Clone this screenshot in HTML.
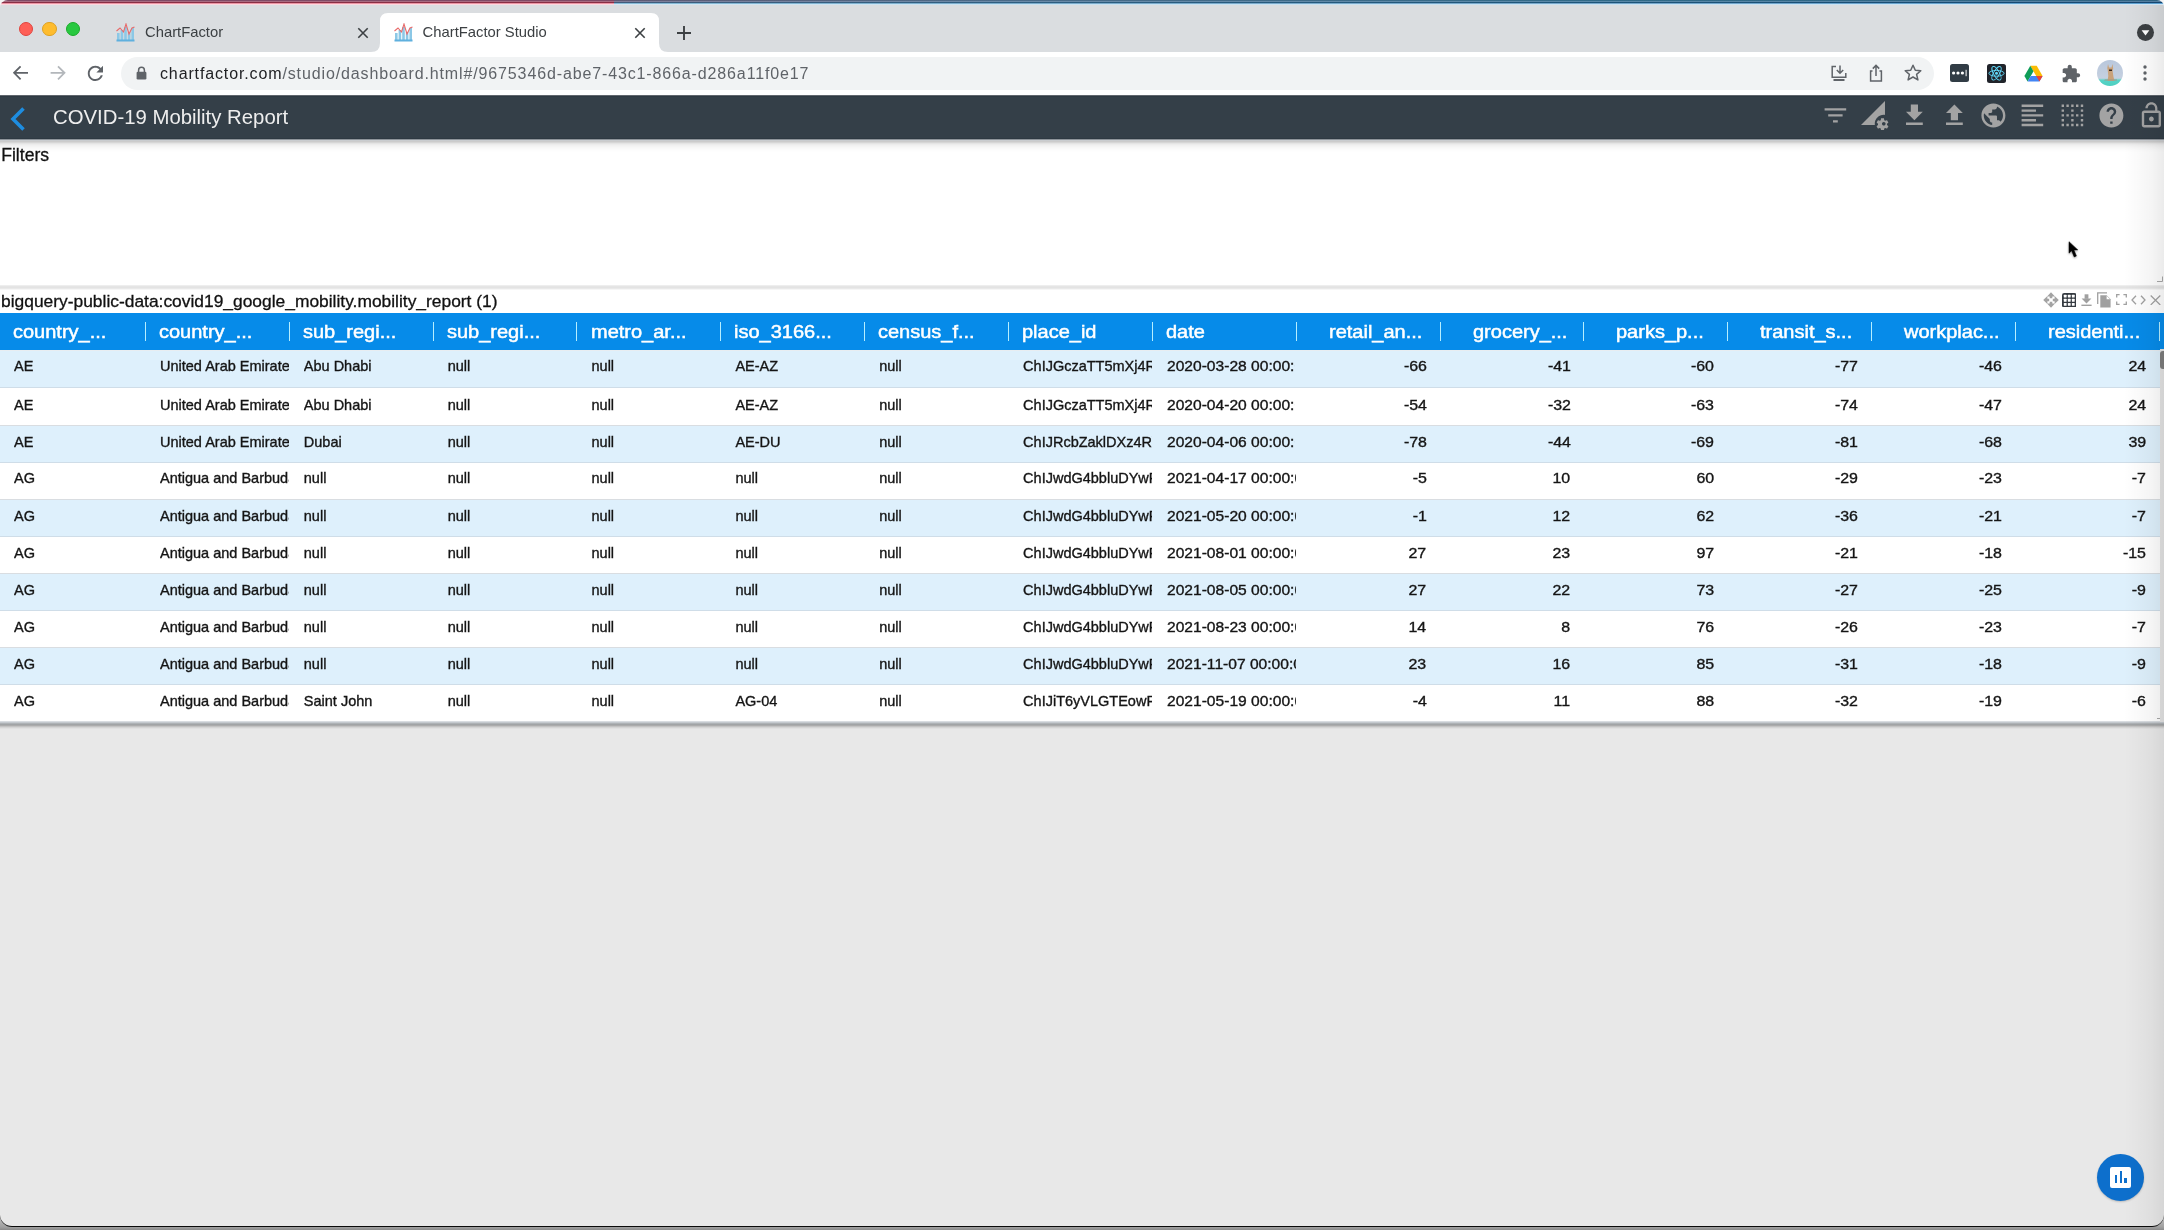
<!DOCTYPE html>
<html><head><meta charset="utf-8">
<style>
*{box-sizing:border-box;margin:0;padding:0}
html,body{width:2164px;height:1230px;overflow:hidden;background:linear-gradient(to bottom,#f4f4f4 0,#f4f4f4 1200px,#a0a0a0 1227px,#8a8a8a 1230px);font-family:"Liberation Sans",sans-serif}
.abs{position:absolute}
#win{will-change:transform;position:absolute;left:0;top:0;width:2164px;height:1227px;background:#e8e8e8;overflow:hidden;border-radius:8px 7px 12px 12px;border-bottom:1px solid #0a0a0a}
/* top stripe (desktop behind) */
#stripe{position:absolute;left:0;top:0;width:2164px;height:5px}
#tabstrip{position:absolute;left:0;top:5px;width:2164px;height:47px;background:#dadde0}
.tab-title{position:absolute;font-size:14.8px;color:#3c4043;white-space:nowrap;line-height:16px}
#toolbar{position:absolute;left:0;top:52px;width:2164px;height:43px;background:#fff}
#omni{position:absolute;left:120.5px;top:57px;width:1813px;height:33px;background:#f1f3f4;border-radius:16.5px}
#url{position:absolute;left:160px;top:64.7px;font-size:16px;letter-spacing:0.87px;color:#5f6368;white-space:nowrap;line-height:18px}
#url b{font-weight:400;color:#202124}
#appbar{position:absolute;left:0;top:95px;width:2164px;height:44px;background:#343f48;border-top:1px solid #60666d;z-index:3}
#appbar:before{content:"";position:absolute;left:0;top:0;width:100%;height:1px;background:#2e3942}
#appbar:after{content:"";position:absolute;left:0;bottom:0;width:100%;height:1px;background:#2e3942}
#abshadow{position:absolute;left:0;top:139px;width:2164px;height:13px;z-index:3;background:linear-gradient(to bottom,#8e949a 0,#8e949a 1px,#c9cccf 1px,#c9cccf 2px,#cbcbcb 2px,#cbcbcb 3px,#d6d6d6 3px,#d6d6d6 4px,#e4e4e4 4px,#e4e4e4 5px,#ececec 5px,#ececec 6px,#f1f1f1 6px,#f1f1f1 7px,#f4f4f4 7px,#f4f4f4 8px,#f7f7f7 8px,#f7f7f7 9px,#f9f9f9 9px,#f9f9f9 10px,#fbfbfb 10px,#fbfbfb 11px,#fdfdfd 11px,#fdfdfd 12px,#fefefe 12px)}
#title{position:absolute;z-index:4;left:53px;top:105.7px;font-size:20.35px;color:#eeeeee;white-space:nowrap;line-height:22px}
#filters{position:absolute;left:0;top:139px;width:2164px;height:146px;background:#fff}
#sep1{position:absolute;left:0;top:285px;width:2164px;height:5px;background:linear-gradient(to bottom,#eeeeee 0,#eeeeee 1px,#e5e5e5 1px,#e5e5e5 2px,#e3e3e3 2px,#e3e3e3 3px,#e9e9e9 3px,#e9e9e9 4px,#f6f6f6 4px)}
#panel{position:absolute;left:0;top:290px;width:2164px;height:432px;background:#fff}
#pshadow{position:absolute;left:0;top:722px;width:2164px;height:7px;background:linear-gradient(to bottom,#c4c9ce 0,#c4c9ce 1px,#aeb2b5 1px,#aeb2b5 2px,#a1a4a6 2px,#a1a4a6 3px,#acacac 3px,#acacac 4px,#c3c3c3 4px,#c3c3c3 5px,#d5d5d5 5px,#d5d5d5 6px,#e1e1e1 6px)}
#ptitle{position:absolute;left:1px;top:291px;font-size:17.4px;color:#111;-webkit-text-stroke:0.3px #111;white-space:nowrap;line-height:20px}
#thead{position:absolute;left:0;top:313px;width:2164px;height:36.5px;background:#068be9}
.hc{position:absolute;top:1.4px;height:36px;font-size:18.6px;letter-spacing:0px;font-weight:400;-webkit-text-stroke:0.5px #fff;transform:scaleX(1.075);transform-origin:0 50%;color:#fff;white-space:nowrap;line-height:36px;padding-top:0}
.hs{position:absolute;top:9px;width:1px;height:19px;background:#b5eeff}
.row{position:absolute;left:0;width:2160px}
.row.b{background:#def0fc}
.row.w{background:#fff}
.rl{position:absolute;left:0;width:2160px;height:1px}
.rl.b{background:#cfdde8}
.rl.w{background:#d9dde1}
.c{position:absolute;height:20px;font-size:14.5px;color:#151515;-webkit-text-stroke:0.35px #151515;white-space:nowrap;overflow:hidden;line-height:20px}
.c.n{text-align:right}
.c.n span{display:inline-block;transform:scaleX(1.1);transform-origin:100% 50%}
.c.d span{display:inline-block;transform:scaleX(1.075);transform-origin:0 50%}
#rightfade{position:absolute;left:2124px;top:5px;width:40px;height:1222px;background:linear-gradient(to right,rgba(0,0,0,0),rgba(0,0,0,0.018) 35%,rgba(0,0,0,0.045) 70%,rgba(0,0,0,0.08));z-index:10;pointer-events:none}
</style></head>
<body>
<div id="win">
  <div id="stripe">
    <div class="abs" style="left:0;top:0;width:614px;height:1px;background:#7e4a66"></div>
    <div class="abs" style="left:0;top:1px;width:614px;height:1px;background:#a86a80"></div>
    <div class="abs" style="left:0;top:2px;width:614px;height:1px;background:#8a2e44"></div>
    <div class="abs" style="left:0;top:3px;width:614px;height:1px;background:#ec95a5"></div>
    <div class="abs" style="left:0;top:4px;width:614px;height:1px;background:#fcd8df"></div>
    <div class="abs" style="left:614px;top:0;width:1550px;height:1px;background:linear-gradient(to right,#605a74,#4a6a88 25%,#306a88 64%,#2f6383)"></div>
    <div class="abs" style="left:614px;top:1px;width:1550px;height:1px;background:linear-gradient(to right,#7f7d98,#6a8aa8 25%,#5888a8 64%,#547ea0)"></div>
    <div class="abs" style="left:614px;top:2px;width:1550px;height:1px;background:linear-gradient(to right,#415c7c,#2e5e80 25%,#1c5478 64%,#164670)"></div>
    <div class="abs" style="left:614px;top:3px;width:1550px;height:1px;background:linear-gradient(to right,#86bcd8,#7aaccc 25%,#78a8cc 64%,#5aa0d0)"></div>
    <div class="abs" style="left:614px;top:4px;width:1550px;height:1px;background:linear-gradient(to right,#d6e6f2,#c8e2f2 25%,#c8e2f2 64%,#d0e4f4)"></div>
  </div>
  <div id="tabstrip"></div>
  <div id="toolbar"></div>
  <div id="omni"></div>
  <div id="url"><b>chartfactor.com</b>/studio/dashboard.html#/9675346d-abe7-43c1-866a-d286a11f0e17</div>

  <!-- traffic lights -->
  <div class="abs" style="left:19px;top:21.7px;width:14.2px;height:14.2px;border-radius:50%;background:#fe5f57;border:0.5px solid #e0443e"></div>
  <div class="abs" style="left:42.4px;top:21.7px;width:14.2px;height:14.2px;border-radius:50%;background:#febc2e;border:0.5px solid #dea123"></div>
  <div class="abs" style="left:65.5px;top:21.7px;width:14.2px;height:14.2px;border-radius:50%;background:#28c840;border:0.5px solid #1aab29"></div>
  <!-- active tab shape -->
  <svg class="abs" style="left:0;top:0" width="700" height="53" viewBox="0 0 700 53">
    <path d="M371 52 Q380 52 380 43 L380 21 Q380 13 388 13 L651 13 Q659 13 659 21 L659 43 Q659 52 668 52 Z" fill="#fff"/>
  </svg>
  <!-- favicons -->
  <svg class="abs" style="left:116px;top:23px" width="19" height="19" viewBox="0 0 19 19">
    <g fill="#8cc8e6"><rect x="1" y="10" width="2.6" height="8"/><rect x="4.6" y="7" width="2.6" height="11"/><rect x="8.2" y="4" width="2.6" height="14"/><rect x="11.8" y="9" width="2.6" height="9"/><rect x="15.4" y="5" width="2.6" height="13"/></g>
    <rect x="0.5" y="16.5" width="18" height="2" fill="#5fb0de"/>
    <polyline points="0.5,8 4,5 7.5,9 10,1 13,11 16,5 18.5,4" fill="none" stroke="#e86a6a" stroke-width="1.1"/>
  </svg>
  <svg class="abs" style="left:393.5px;top:23px" width="19" height="19" viewBox="0 0 19 19">
    <g fill="#8cc8e6"><rect x="1" y="10" width="2.6" height="8"/><rect x="4.6" y="7" width="2.6" height="11"/><rect x="8.2" y="4" width="2.6" height="14"/><rect x="11.8" y="9" width="2.6" height="9"/><rect x="15.4" y="5" width="2.6" height="13"/></g>
    <rect x="0.5" y="16.5" width="18" height="2" fill="#5fb0de"/>
    <polyline points="0.5,8 4,5 7.5,9 10,1 13,11 16,5 18.5,4" fill="none" stroke="#e86a6a" stroke-width="1.1"/>
  </svg>
  <div class="tab-title" style="left:145px;top:24.2px">ChartFactor</div>
  <div class="tab-title" style="left:422.6px;top:24.2px">ChartFactor Studio</div>
  <svg class="abs" style="left:356px;top:26px" width="14" height="14" viewBox="0 0 14 14"><path d="M2.3 2.3L11.7 11.7M11.7 2.3L2.3 11.7" stroke="#3c4043" stroke-width="1.6"/></svg>
  <svg class="abs" style="left:633px;top:26px" width="14" height="14" viewBox="0 0 14 14"><path d="M2.3 2.3L11.7 11.7M11.7 2.3L2.3 11.7" stroke="#3c4043" stroke-width="1.6"/></svg>
  <svg class="abs" style="left:675px;top:24px" width="18" height="18" viewBox="0 0 18 18"><path d="M9 2V16M2 9H16" stroke="#3c4043" stroke-width="1.9"/></svg>
  <!-- tab search (dropdown) -->
  <div class="abs" style="left:2136.5px;top:23.5px;width:17px;height:17px;border-radius:50%;background:#3c4043"></div>
  <svg class="abs" style="left:2136.5px;top:23.5px" width="17" height="17" viewBox="0 0 17 17"><path d="M4.6 6.3H12.4L8.5 11.4Z" fill="#fff"/></svg>

  <!-- nav buttons -->
  <svg class="abs" style="left:0;top:58px" width="80" height="30" viewBox="0 58 80 30"><path d="M28 72.8H14.2M20.6 66.3L14.1 72.8L20.6 79.3" fill="none" stroke="#5f6368" stroke-width="1.8"/><path d="M50.6 72.8H64.4M58 66.3L64.5 72.8L58 79.3" fill="none" stroke="#b3b7bb" stroke-width="1.8"/></svg>
  
  <svg class="abs" style="left:83.9px;top:61.8px" width="22.8" height="22.8" viewBox="0 0 24 24"><path d="M17.65 6.35C16.2 4.9 14.21 4 12 4c-4.42 0-7.99 3.58-7.99 8s3.57 8 7.99 8c3.73 0 6.84-2.55 7.73-6h-2.08c-.82 2.330-3.04 4-5.65 4-3.31 0-6-2.69-6-6s2.69-6 6-6c1.66 0 3.14.69 4.22 1.78L13 11h7V4l-2.35 2.35z" fill="#5f6368"/></svg>
  <!-- lock -->
  <svg class="abs" style="left:136px;top:66px" width="11" height="14" viewBox="0 0 11 14"><path d="M2.6 6V4.2A2.9 2.9 0 0 1 8.4 4.2V6" fill="none" stroke="#5f6368" stroke-width="1.5"/><rect x="0.6" y="5.8" width="9.8" height="7.6" rx="1.2" fill="#5f6368"/></svg>
  <!-- omnibox right icons -->
  <svg class="abs" style="left:1829px;top:63px" width="20" height="20" viewBox="0 0 20 20"><path d="M7 3.5H3.2V14.3H16.8V10" fill="none" stroke="#5f6368" stroke-width="1.5"/><path d="M11 2.5V10M7.8 7L11 10.2L14.2 7" fill="none" stroke="#5f6368" stroke-width="1.5"/><rect x="4.5" y="16" width="11" height="2" fill="#5f6368"/></svg>
  <svg class="abs" style="left:1866px;top:63px" width="20" height="20" viewBox="0 0 20 20"><path d="M6.5 8H4.6V18H15.4V8H13.5" fill="none" stroke="#5f6368" stroke-width="1.5"/><path d="M10 13V2.5M6.8 5.6L10 2.4L13.2 5.6" fill="none" stroke="#5f6368" stroke-width="1.5"/></svg>
  <svg class="abs" style="left:1903px;top:63px" width="20" height="20" viewBox="0 0 20 20"><path d="M10 2.2L12.3 7.3L17.8 7.8L13.6 11.4L14.9 16.9L10 14L5.1 16.9L6.4 11.4L2.2 7.8L7.7 7.3Z" fill="none" stroke="#5f6368" stroke-width="1.5" stroke-linejoin="round"/></svg>
  <!-- extensions -->
  <div class="abs" style="left:1950px;top:64px;width:18.5px;height:18px;border-radius:2.5px;background:#313c45"></div>
  <svg class="abs" style="left:1950px;top:64px" width="19" height="18" viewBox="0 0 19 18"><g fill="#fff"><circle cx="3.6" cy="9" r="1.6"/><circle cx="8" cy="9" r="1.6"/><circle cx="12.4" cy="9" r="1.6"/><rect x="15.6" y="5.8" width="1" height="6.4"/></g></svg>
  <div class="abs" style="left:1987px;top:64px;width:19px;height:18.5px;border-radius:2.5px;background:#20232a"></div>
  <svg class="abs" style="left:1987px;top:64px" width="19" height="19" viewBox="0 0 19 19"><g fill="none" stroke="#61dafb" stroke-width="0.9"><ellipse cx="9.5" cy="9.3" rx="7.6" ry="2.9"/><ellipse cx="9.5" cy="9.3" rx="7.6" ry="2.9" transform="rotate(60 9.5 9.3)"/><ellipse cx="9.5" cy="9.3" rx="7.6" ry="2.9" transform="rotate(120 9.5 9.3)"/></g><circle cx="9.5" cy="9.3" r="1.5" fill="#61dafb"/></svg>
  <svg class="abs" style="left:2024px;top:65px" width="19" height="17" viewBox="0 0 19 17"><path d="M6.3 0.8H12.7L18.6 11H12.2Z" fill="#fbbc04"/><path d="M6.3 0.8L0.4 11L3.6 16.4L9.5 6.2Z" fill="#0f9d58"/><path d="M3.6 16.4H15.4L18.6 11H6.8Z" fill="#4285f4"/><path d="M15.4 16.4L18.6 11H12.2Z" fill="#ea4335"/></svg>
  <svg class="abs" style="left:2061px;top:64px" width="20" height="20" viewBox="0 0 24 24"><path d="M20.5 11H19V7c0-1.1-.9-2-2-2h-4V3.5C13 2.12 11.88 1 10.5 1S8 2.12 8 3.5V5H4c-1.1 0-1.99.9-1.99 2v3.8H3.5c1.49 0 2.7 1.21 2.7 2.7s-1.21 2.7-2.7 2.7H2V20c0 1.1.9 2 2 2h3.8v-1.5c0-1.49 1.21-2.7 2.7-2.7 1.49 0 2.7 1.21 2.7 2.7V22H17c1.1 0 2-.9 2-2v-4h1.5c1.38 0 2.5-1.12 2.5-2.5S21.88 11 20.5 11z" fill="#5f6368"/></svg>
  <!-- avatar -->
  <div class="abs" style="left:2096.5px;top:59.5px;width:26px;height:26px;border-radius:50%;background:linear-gradient(#b9c7dc 0%,#c5d0e0 70%,#57d3c6 78%,#4dcfc0 100%);overflow:hidden"></div>
  <svg class="abs" style="left:2096.5px;top:59.5px" width="26" height="26" viewBox="0 0 26 26"><path d="M11 4L12 7.5L14.5 7.5L15.5 4L16.2 8.5L15.6 11L16.5 17L17.5 21L10.5 21L11.3 16L10.8 11L10.3 8Z" fill="#c9a27a"/><path d="M12 9.5h3v1.5h-3z" fill="#3b2a1f"/><path d="M7 21H20V19H8Z" fill="#9a9a8a" opacity="0.5"/></svg>
  <!-- kebab -->
  <svg class="abs" style="left:2140px;top:63px" width="10" height="20" viewBox="0 0 10 20"><g fill="#5f6368"><circle cx="5" cy="4" r="1.7"/><circle cx="5" cy="10" r="1.7"/><circle cx="5" cy="16" r="1.7"/></g></svg>
  <div id="appbar"></div>
  <svg class="abs" style="left:9px;top:106px;z-index:4" width="18" height="26" viewBox="0 0 18 26"><path d="M14.5 2.5L4 13L14.5 23.5" fill="none" stroke="#1e8de0" stroke-width="3.6"/></svg>
  <svg class="abs" style="left:1821.4px;top:101.2px;z-index:4" width="28.8" height="28.8" viewBox="0 0 24 24"><path d="M10 18h4v-2h-4v2zM3 6v2h18V6H3zm3 7h12v-2H6v2z" fill="#a3a3a3"/></svg>
  <svg class="abs" style="left:1860.8px;top:101.2px;z-index:4" width="28.8" height="28.8" viewBox="0 0 24 24"><path d="M18.99 11.5c.34 0 .67.03 1 .07L20 0 0 20h11.56c-.04-.33-.07-.66-.07-1 0-4.14 3.36-7.5 7.5-7.5zm3.71 9.36l-1.07-.83c.02-.17.04-.35.04-.53 0-.18-.01-.36-.04-.53l1.06-.83c.09-.08.12-.21.06-.32l-1-1.73c-.06-.11-.19-.15-.31-.11l-1.24.5c-.26-.2-.54-.37-.85-.49l-.19-1.32c-.01-.12-.12-.21-.24-.21h-2c-.12 0-.23.09-.25.21l-.19 1.320c-.3.13-.59.29-.85.49l-1.24-.5c-.11-.04-.24 0-.31.11l-1 1.73c-.06.11-.04.24.06.32l1.06.83c-.02.17-.03.35-.03.53 0 .18.01.36.03.53l-1.06.83c-.09.08-.12.21-.06.32l1 1.73c.06.11.19.15.31.11l1.24-.5c.26.2.54.37.85.49l.19 1.32c.02.12.12.21.25.21h2c.12 0 .23-.09.25-.21l.19-1.32c.3-.13.59-.29.84-.49l1.25.5c.11.04.24 0 .31-.11l1-1.730c.06-.11.03-.24-.06-.32zm-3.71-.36c-.83 0-1.5-.67-1.5-1.5s.67-1.5 1.5-1.5 1.5.67 1.5 1.5-.67 1.5-1.5 1.5z" fill="#a3a3a3"/></svg>
  <svg class="abs" style="left:1900.2px;top:101.2px;z-index:4" width="28.8" height="28.8" viewBox="0 0 24 24"><path d="M19 9h-4V3H9v6H5l7 7 7-7zM5 18v2h14v-2H5z" fill="#a3a3a3"/></svg>
  <svg class="abs" style="left:1939.6px;top:101.2px;z-index:4" width="28.8" height="28.8" viewBox="0 0 24 24"><path d="M9 16h6v-6h4l-7-7-7 7h4zm-4 2h14v2H5z" fill="#a3a3a3"/></svg>
  <svg class="abs" style="left:1979.0px;top:101.2px;z-index:4" width="28.8" height="28.8" viewBox="0 0 24 24"><path d="M12 2C6.48 2 2 6.48 2 12s4.48 10 10 10 10-4.48 10-10S17.52 2 12 2zm-1 17.93c-3.95-.49-7-3.85-7-7.93 0-.62.08-1.21.21-1.79L9 15v1c0 1.1.9 2 2 2v1.93zm6.9-2.54c-.26-.81-1-1.39-1.9-1.39h-1v-3c0-.55-.45-1-1-1H8v-2h2c.55 0 1-.45 1-1V7h2c1.1 0 2-.9 2-2v-.41c2.93 1.19 5 4.06 5 7.41 0 2.080-.8 3.97-2.1 5.39z" fill="#a3a3a3"/></svg>
  <svg class="abs" style="left:2018.4px;top:101.2px;z-index:4" width="28.8" height="28.8" viewBox="0 0 24 24"><path d="M15 15H3v2h12v-2zm0-8H3v2h12V7zM3 13h18v-2H3v2zm0 8h18v-2H3v2zM3 3v2h18V3H3z" fill="#a3a3a3"/></svg>
  <svg class="abs" style="left:2057.8px;top:101.2px;z-index:4" width="28.8" height="28.8" viewBox="0 0 24 24"><path d="M7 5h2V3H7v2zm0 8h2v-2H7v2zm0 8h2v-2H7v2zm4-4h2v-2h-2v2zm0 4h2v-2h-2v2zm-8 0h2v-2H3v2zm0-4h2v-2H3v2zm0-4h2v-2H3v2zm0-4h2V7H3v2zm0-4h2V3H3v2zm8 8h2v-2h-2v2zm8 4h2v-2h-2v2zm0-4h2v-2h-2v2zm0 8h2v-2h-2v2zm0-12h2V7h-2v2zm-8 0h2V7h-2v2zm8-6v2h2V3h-2zm-8 2h2V3h-2v2zm4 16h2v-2h-2v2zm0-8h2v-2h-2v2zm0-8h2V3h-2v2z" fill="#a3a3a3"/></svg>
  <svg class="abs" style="left:2097.2px;top:101.2px;z-index:4" width="28.8" height="28.8" viewBox="0 0 24 24"><path d="M12 2C6.48 2 2 6.48 2 12s4.48 10 10 10 10-4.48 10-10S17.52 2 12 2zm1 17h-2v-2h2v2zm2.07-7.75l-.9.92C13.45 12.9 13 13.5 13 15h-2v-.5c0-1.1.45-2.1 1.17-2.83l1.24-1.26c.37-.36.59-.86.59-1.41 0-1.1-.9-2-2-2s-2 .9-2 2H8c0-2.21 1.79-4 4-4s4 1.79 4 4c0 .88-.36 1.68-.93 2.25z" fill="#a3a3a3"/></svg>
  <svg class="abs" style="left:2136.6px;top:101.2px;z-index:4" width="28.8" height="28.8" viewBox="0 0 24 24"><path d="M12 17c1.1 0 2-.9 2-2s-.9-2-2-2-2 .9-2 2 .9 2 2 2zm6-9h-1V6c0-2.76-2.24-5-5-5S7 3.24 7 6h1.9c0-1.71 1.39-3.1 3.1-3.1 1.71 0 3.1 1.39 3.1 3.1v2H6c-1.1 0-2 .9-2 2v10c0 1.1.9 2 2 2h12c1.1 0 2-.9 2-2V10c0-1.1-.9-2-2-2zm0 12H6V10h12v10z" fill="#a3a3a3"/></svg>
  <div id="abshadow"></div>
  <div id="title">COVID-19 Mobility Report</div>
  <div id="filters"></div>
  <div class="abs" style="z-index:5;left:1.2px;top:144.8px;font-size:17.6px;letter-spacing:0px;-webkit-text-stroke:0.3px #111;line-height:20px;color:#111">Filters</div>
  <div id="sep1"></div>
  <div id="panel"></div>
  <div id="pshadow"></div>
  <div id="ptitle">bigquery-public-data:covid19_google_mobility.mobility_report (1)</div>
  <div class="abs" style="left:0;top:349.5px;width:2160px;height:1.4px;background:#e8edf1"></div>
<!--TABLE-->
<div id="thead">
<div class="hc" style="left:13.0px">country_...</div>
<div class="hs" style="left:145px"></div>
<div class="hc" style="left:159.0px">country_...</div>
<div class="hs" style="left:289px"></div>
<div class="hc" style="left:302.8px">sub_regi...</div>
<div class="hs" style="left:433px"></div>
<div class="hc" style="left:446.7px">sub_regi...</div>
<div class="hs" style="left:576px"></div>
<div class="hc" style="left:590.5px">metro_ar...</div>
<div class="hs" style="left:720px"></div>
<div class="hc" style="left:734.4px">iso_3166...</div>
<div class="hs" style="left:864px"></div>
<div class="hc" style="left:878.2px">census_f...</div>
<div class="hs" style="left:1008px"></div>
<div class="hc" style="left:1022.1px">place_id</div>
<div class="hs" style="left:1152px"></div>
<div class="hc" style="left:1165.9px">date</div>
<div class="hs" style="left:1296px"></div>
<div class="hc" style="left:1328.7px">retail_an...</div>
<div class="hs" style="left:1440px"></div>
<div class="hc" style="left:1472.5px">grocery_...</div>
<div class="hs" style="left:1583px"></div>
<div class="hc" style="left:1616.4px">parks_p...</div>
<div class="hs" style="left:1727px"></div>
<div class="hc" style="left:1760.2px">transit_s...</div>
<div class="hs" style="left:1871px"></div>
<div class="hc" style="left:1904.1px">workplac...</div>
<div class="hs" style="left:2015px"></div>
<div class="hc" style="left:2047.9px">residenti...</div>
<div class="hs" style="left:2159px"></div>
</div>
<div id="rows">
<div class="row b" style="top:351px;height:36px"></div>
<div class="rl b" style="top:387px"></div>
<div class="row w" style="top:388px;height:37px"></div>
<div class="rl w" style="top:425px"></div>
<div class="row b" style="top:426px;height:36px"></div>
<div class="rl b" style="top:462px"></div>
<div class="row w" style="top:463px;height:36px"></div>
<div class="rl w" style="top:499px"></div>
<div class="row b" style="top:500px;height:36px"></div>
<div class="rl b" style="top:536px"></div>
<div class="row w" style="top:537px;height:36px"></div>
<div class="rl w" style="top:573px"></div>
<div class="row b" style="top:574px;height:36px"></div>
<div class="rl b" style="top:610px"></div>
<div class="row w" style="top:611px;height:36px"></div>
<div class="rl w" style="top:647px"></div>
<div class="row b" style="top:648px;height:36px"></div>
<div class="rl b" style="top:684px"></div>
<div class="row w" style="top:685px;height:36px"></div>
<div class="rl w" style="top:721px"></div>
<div class="c" style="top:355.98px;left:14.0px;width:131.4px">AE</div>
<div class="c" style="top:355.98px;left:160.0px;width:129.3px">United Arab Emirates</div>
<div class="c" style="top:355.98px;left:303.8px;width:129.2px">Abu Dhabi</div>
<div class="c" style="top:355.98px;left:447.7px;width:129.3px">null</div>
<div class="c" style="top:355.98px;left:591.5px;width:129.2px">null</div>
<div class="c" style="top:355.98px;left:735.4px;width:129.3px">AE-AZ</div>
<div class="c" style="top:355.98px;left:879.2px;width:129.3px">null</div>
<div class="c" style="top:355.98px;left:1023.1px;width:129.2px">ChIJGczaTT5mXj4RGbmvNdrVqeA</div>
<div class="c d" style="top:355.98px;left:1166.9px;width:128.1px"><span>2020-03-28 00:00:00</span></div>
<div class="c n" style="top:355.98px;left:1296.2px;width:130.4px"><span>-66</span></div>
<div class="c n" style="top:355.98px;left:1440.0px;width:130.5px"><span>-41</span></div>
<div class="c n" style="top:355.98px;left:1583.9px;width:130.4px"><span>-60</span></div>
<div class="c n" style="top:355.98px;left:1727.7px;width:130.4px"><span>-77</span></div>
<div class="c n" style="top:355.98px;left:1871.6px;width:130.5px"><span>-46</span></div>
<div class="c n" style="top:355.98px;left:2015.4px;width:130.4px"><span>24</span></div>
<div class="c" style="top:394.98px;left:14.0px;width:131.4px">AE</div>
<div class="c" style="top:394.98px;left:160.0px;width:129.3px">United Arab Emirates</div>
<div class="c" style="top:394.98px;left:303.8px;width:129.2px">Abu Dhabi</div>
<div class="c" style="top:394.98px;left:447.7px;width:129.3px">null</div>
<div class="c" style="top:394.98px;left:591.5px;width:129.2px">null</div>
<div class="c" style="top:394.98px;left:735.4px;width:129.3px">AE-AZ</div>
<div class="c" style="top:394.98px;left:879.2px;width:129.3px">null</div>
<div class="c" style="top:394.98px;left:1023.1px;width:129.2px">ChIJGczaTT5mXj4RGbmvNdrVqeA</div>
<div class="c d" style="top:394.98px;left:1166.9px;width:128.1px"><span>2020-04-20 00:00:00</span></div>
<div class="c n" style="top:394.98px;left:1296.2px;width:130.4px"><span>-54</span></div>
<div class="c n" style="top:394.98px;left:1440.0px;width:130.5px"><span>-32</span></div>
<div class="c n" style="top:394.98px;left:1583.9px;width:130.4px"><span>-63</span></div>
<div class="c n" style="top:394.98px;left:1727.7px;width:130.4px"><span>-74</span></div>
<div class="c n" style="top:394.98px;left:1871.6px;width:130.5px"><span>-47</span></div>
<div class="c n" style="top:394.98px;left:2015.4px;width:130.4px"><span>24</span></div>
<div class="c" style="top:431.98px;left:14.0px;width:131.4px">AE</div>
<div class="c" style="top:431.98px;left:160.0px;width:129.3px">United Arab Emirates</div>
<div class="c" style="top:431.98px;left:303.8px;width:129.2px">Dubai</div>
<div class="c" style="top:431.98px;left:447.7px;width:129.3px">null</div>
<div class="c" style="top:431.98px;left:591.5px;width:129.2px">null</div>
<div class="c" style="top:431.98px;left:735.4px;width:129.3px">AE-DU</div>
<div class="c" style="top:431.98px;left:879.2px;width:129.3px">null</div>
<div class="c" style="top:431.98px;left:1023.1px;width:129.2px">ChIJRcbZaklDXz4RYlEphFBu5r0</div>
<div class="c d" style="top:431.98px;left:1166.9px;width:128.1px"><span>2020-04-06 00:00:00</span></div>
<div class="c n" style="top:431.98px;left:1296.2px;width:130.4px"><span>-78</span></div>
<div class="c n" style="top:431.98px;left:1440.0px;width:130.5px"><span>-44</span></div>
<div class="c n" style="top:431.98px;left:1583.9px;width:130.4px"><span>-69</span></div>
<div class="c n" style="top:431.98px;left:1727.7px;width:130.4px"><span>-81</span></div>
<div class="c n" style="top:431.98px;left:1871.6px;width:130.5px"><span>-68</span></div>
<div class="c n" style="top:431.98px;left:2015.4px;width:130.4px"><span>39</span></div>
<div class="c" style="top:467.98px;left:14.0px;width:131.4px">AG</div>
<div class="c" style="top:467.98px;left:160.0px;width:129.3px">Antigua and Barbuda</div>
<div class="c" style="top:467.98px;left:303.8px;width:129.2px">null</div>
<div class="c" style="top:467.98px;left:447.7px;width:129.3px">null</div>
<div class="c" style="top:467.98px;left:591.5px;width:129.2px">null</div>
<div class="c" style="top:467.98px;left:735.4px;width:129.3px">null</div>
<div class="c" style="top:467.98px;left:879.2px;width:129.3px">null</div>
<div class="c" style="top:467.98px;left:1023.1px;width:129.2px">ChIJwdG4bbluDYwRnMSdmvGSj3g</div>
<div class="c d" style="top:467.98px;left:1166.9px;width:129.3px"><span>2021-04-17 00:00:00</span></div>
<div class="c n" style="top:467.98px;left:1296.2px;width:130.4px"><span>-5</span></div>
<div class="c n" style="top:467.98px;left:1440.0px;width:130.5px"><span>10</span></div>
<div class="c n" style="top:467.98px;left:1583.9px;width:130.4px"><span>60</span></div>
<div class="c n" style="top:467.98px;left:1727.7px;width:130.4px"><span>-29</span></div>
<div class="c n" style="top:467.98px;left:1871.6px;width:130.5px"><span>-23</span></div>
<div class="c n" style="top:467.98px;left:2015.4px;width:130.4px"><span>-7</span></div>
<div class="c" style="top:505.68px;left:14.0px;width:131.4px">AG</div>
<div class="c" style="top:505.68px;left:160.0px;width:129.3px">Antigua and Barbuda</div>
<div class="c" style="top:505.68px;left:303.8px;width:129.2px">null</div>
<div class="c" style="top:505.68px;left:447.7px;width:129.3px">null</div>
<div class="c" style="top:505.68px;left:591.5px;width:129.2px">null</div>
<div class="c" style="top:505.68px;left:735.4px;width:129.3px">null</div>
<div class="c" style="top:505.68px;left:879.2px;width:129.3px">null</div>
<div class="c" style="top:505.68px;left:1023.1px;width:129.2px">ChIJwdG4bbluDYwRnMSdmvGSj3g</div>
<div class="c d" style="top:505.68px;left:1166.9px;width:129.3px"><span>2021-05-20 00:00:00</span></div>
<div class="c n" style="top:505.68px;left:1296.2px;width:130.4px"><span>-1</span></div>
<div class="c n" style="top:505.68px;left:1440.0px;width:130.5px"><span>12</span></div>
<div class="c n" style="top:505.68px;left:1583.9px;width:130.4px"><span>62</span></div>
<div class="c n" style="top:505.68px;left:1727.7px;width:130.4px"><span>-36</span></div>
<div class="c n" style="top:505.68px;left:1871.6px;width:130.5px"><span>-21</span></div>
<div class="c n" style="top:505.68px;left:2015.4px;width:130.4px"><span>-7</span></div>
<div class="c" style="top:542.98px;left:14.0px;width:131.4px">AG</div>
<div class="c" style="top:542.98px;left:160.0px;width:129.3px">Antigua and Barbuda</div>
<div class="c" style="top:542.98px;left:303.8px;width:129.2px">null</div>
<div class="c" style="top:542.98px;left:447.7px;width:129.3px">null</div>
<div class="c" style="top:542.98px;left:591.5px;width:129.2px">null</div>
<div class="c" style="top:542.98px;left:735.4px;width:129.3px">null</div>
<div class="c" style="top:542.98px;left:879.2px;width:129.3px">null</div>
<div class="c" style="top:542.98px;left:1023.1px;width:129.2px">ChIJwdG4bbluDYwRnMSdmvGSj3g</div>
<div class="c d" style="top:542.98px;left:1166.9px;width:129.3px"><span>2021-08-01 00:00:00</span></div>
<div class="c n" style="top:542.98px;left:1296.2px;width:130.4px"><span>27</span></div>
<div class="c n" style="top:542.98px;left:1440.0px;width:130.5px"><span>23</span></div>
<div class="c n" style="top:542.98px;left:1583.9px;width:130.4px"><span>97</span></div>
<div class="c n" style="top:542.98px;left:1727.7px;width:130.4px"><span>-21</span></div>
<div class="c n" style="top:542.98px;left:1871.6px;width:130.5px"><span>-18</span></div>
<div class="c n" style="top:542.98px;left:2015.4px;width:130.4px"><span>-15</span></div>
<div class="c" style="top:579.98px;left:14.0px;width:131.4px">AG</div>
<div class="c" style="top:579.98px;left:160.0px;width:129.3px">Antigua and Barbuda</div>
<div class="c" style="top:579.98px;left:303.8px;width:129.2px">null</div>
<div class="c" style="top:579.98px;left:447.7px;width:129.3px">null</div>
<div class="c" style="top:579.98px;left:591.5px;width:129.2px">null</div>
<div class="c" style="top:579.98px;left:735.4px;width:129.3px">null</div>
<div class="c" style="top:579.98px;left:879.2px;width:129.3px">null</div>
<div class="c" style="top:579.98px;left:1023.1px;width:129.2px">ChIJwdG4bbluDYwRnMSdmvGSj3g</div>
<div class="c d" style="top:579.98px;left:1166.9px;width:129.3px"><span>2021-08-05 00:00:00</span></div>
<div class="c n" style="top:579.98px;left:1296.2px;width:130.4px"><span>27</span></div>
<div class="c n" style="top:579.98px;left:1440.0px;width:130.5px"><span>22</span></div>
<div class="c n" style="top:579.98px;left:1583.9px;width:130.4px"><span>73</span></div>
<div class="c n" style="top:579.98px;left:1727.7px;width:130.4px"><span>-27</span></div>
<div class="c n" style="top:579.98px;left:1871.6px;width:130.5px"><span>-25</span></div>
<div class="c n" style="top:579.98px;left:2015.4px;width:130.4px"><span>-9</span></div>
<div class="c" style="top:616.98px;left:14.0px;width:131.4px">AG</div>
<div class="c" style="top:616.98px;left:160.0px;width:129.3px">Antigua and Barbuda</div>
<div class="c" style="top:616.98px;left:303.8px;width:129.2px">null</div>
<div class="c" style="top:616.98px;left:447.7px;width:129.3px">null</div>
<div class="c" style="top:616.98px;left:591.5px;width:129.2px">null</div>
<div class="c" style="top:616.98px;left:735.4px;width:129.3px">null</div>
<div class="c" style="top:616.98px;left:879.2px;width:129.3px">null</div>
<div class="c" style="top:616.98px;left:1023.1px;width:129.2px">ChIJwdG4bbluDYwRnMSdmvGSj3g</div>
<div class="c d" style="top:616.98px;left:1166.9px;width:129.3px"><span>2021-08-23 00:00:00</span></div>
<div class="c n" style="top:616.98px;left:1296.2px;width:130.4px"><span>14</span></div>
<div class="c n" style="top:616.98px;left:1440.0px;width:130.5px"><span>8</span></div>
<div class="c n" style="top:616.98px;left:1583.9px;width:130.4px"><span>76</span></div>
<div class="c n" style="top:616.98px;left:1727.7px;width:130.4px"><span>-26</span></div>
<div class="c n" style="top:616.98px;left:1871.6px;width:130.5px"><span>-23</span></div>
<div class="c n" style="top:616.98px;left:2015.4px;width:130.4px"><span>-7</span></div>
<div class="c" style="top:653.98px;left:14.0px;width:131.4px">AG</div>
<div class="c" style="top:653.98px;left:160.0px;width:129.3px">Antigua and Barbuda</div>
<div class="c" style="top:653.98px;left:303.8px;width:129.2px">null</div>
<div class="c" style="top:653.98px;left:447.7px;width:129.3px">null</div>
<div class="c" style="top:653.98px;left:591.5px;width:129.2px">null</div>
<div class="c" style="top:653.98px;left:735.4px;width:129.3px">null</div>
<div class="c" style="top:653.98px;left:879.2px;width:129.3px">null</div>
<div class="c" style="top:653.98px;left:1023.1px;width:129.2px">ChIJwdG4bbluDYwRnMSdmvGSj3g</div>
<div class="c d" style="top:653.98px;left:1166.9px;width:129.3px"><span>2021-11-07 00:00:00</span></div>
<div class="c n" style="top:653.98px;left:1296.2px;width:130.4px"><span>23</span></div>
<div class="c n" style="top:653.98px;left:1440.0px;width:130.5px"><span>16</span></div>
<div class="c n" style="top:653.98px;left:1583.9px;width:130.4px"><span>85</span></div>
<div class="c n" style="top:653.98px;left:1727.7px;width:130.4px"><span>-31</span></div>
<div class="c n" style="top:653.98px;left:1871.6px;width:130.5px"><span>-18</span></div>
<div class="c n" style="top:653.98px;left:2015.4px;width:130.4px"><span>-9</span></div>
<div class="c" style="top:690.98px;left:14.0px;width:131.4px">AG</div>
<div class="c" style="top:690.98px;left:160.0px;width:129.3px">Antigua and Barbuda</div>
<div class="c" style="top:690.98px;left:303.8px;width:129.2px">Saint John</div>
<div class="c" style="top:690.98px;left:447.7px;width:129.3px">null</div>
<div class="c" style="top:690.98px;left:591.5px;width:129.2px">null</div>
<div class="c" style="top:690.98px;left:735.4px;width:129.3px">AG-04</div>
<div class="c" style="top:690.98px;left:879.2px;width:129.3px">null</div>
<div class="c" style="top:690.98px;left:1023.1px;width:129.2px">ChIJiT6yVLGTEowRPK9XPk8KbYc</div>
<div class="c d" style="top:690.98px;left:1166.9px;width:129.3px"><span>2021-05-19 00:00:00</span></div>
<div class="c n" style="top:690.98px;left:1296.2px;width:130.4px"><span>-4</span></div>
<div class="c n" style="top:690.98px;left:1440.0px;width:130.5px"><span>11</span></div>
<div class="c n" style="top:690.98px;left:1583.9px;width:130.4px"><span>88</span></div>
<div class="c n" style="top:690.98px;left:1727.7px;width:130.4px"><span>-32</span></div>
<div class="c n" style="top:690.98px;left:1871.6px;width:130.5px"><span>-19</span></div>
<div class="c n" style="top:690.98px;left:2015.4px;width:130.4px"><span>-6</span></div>
</div>
<!--/TABLE-->
  <!-- panel toolbar icons -->
  <svg class="abs" style="left:2043.2px;top:291.5px" width="16" height="16" viewBox="0 0 16 16"><g fill="#a3a3a3"><path d="M8 0.2L12 4.4H9.3V6.2H6.7V4.4H4Z"/><path d="M8 15.8L12 11.6H9.3V9.8H6.7V11.6H4Z"/><path d="M0.2 8L4.4 4V6.7H6.2V9.3H4.4V12Z"/><path d="M15.8 8L11.6 4V6.7H9.8V9.3H11.6V12Z"/></g></svg>
  <svg class="abs" style="left:2061.7px;top:292.7px" width="14.5" height="14.5" viewBox="0 0 14.5 14.5"><rect x="0" y="0" width="14.5" height="14.5" rx="2.2" fill="#353b41"/><g fill="#fff"><rect x="1.8" y="1.8" width="2.8" height="2.8" rx="0.5"/><rect x="5.85" y="1.8" width="2.8" height="2.8" rx="0.5"/><rect x="9.9" y="1.8" width="2.8" height="2.8" rx="0.5"/><rect x="1.8" y="5.85" width="2.8" height="2.8" rx="0.5"/><rect x="5.85" y="5.85" width="2.8" height="2.8" rx="0.5"/><rect x="9.9" y="5.85" width="2.8" height="2.8" rx="0.5"/><rect x="1.8" y="9.9" width="2.8" height="2.8" rx="0.5"/><rect x="5.85" y="9.9" width="2.8" height="2.8" rx="0.5"/><rect x="9.9" y="9.9" width="2.8" height="2.8" rx="0.5"/></g></svg>
  <svg class="abs" style="left:2081px;top:293.5px" width="11" height="12.5" viewBox="0 0 11 12.5"><g fill="#a0a0a0"><rect x="3.6" y="0.3" width="3.8" height="4.5"/><path d="M0.6 4.6H10.4L5.5 9.6Z"/><rect x="0.4" y="10.6" width="10.2" height="1.4"/></g></svg>
  <svg class="abs" style="left:2096.5px;top:291.5px" width="14" height="16" viewBox="0 0 14 16"><path d="M0.7 12V0.8H10" fill="none" stroke="#a0a0a0" stroke-width="1.3"/><path d="M3.3 3.3H9.6L13.6 7.3V15.4H3.3Z" fill="#a0a0a0"/><path d="M9.6 3.8V7.3H13.1" fill="#fff"/></svg>
  <svg class="abs" style="left:2115.7px;top:294.4px" width="11" height="11" viewBox="0 0 11 11"><path d="M0.7 3.6V0.7H3.6M7.4 0.7H10.3V3.6M10.3 7.4V10.3H7.4M3.6 10.3H0.7V7.4" fill="none" stroke="#a0a0a0" stroke-width="1.3"/></svg>
  <svg class="abs" style="left:2131.2px;top:294.7px" width="15" height="10" viewBox="0 0 15 10"><path d="M5 0.8L1 5L5 9.2M10 0.8L14 5L10 9.2" fill="none" stroke="#a0a0a0" stroke-width="1.3"/></svg>
  <svg class="abs" style="left:2150.4px;top:294.7px" width="11" height="10.5" viewBox="0 0 11 10.5"><path d="M0.7 0.5L10.3 10M10.3 0.5L0.7 10" fill="none" stroke="#a0a0a0" stroke-width="1.2"/></svg>
  <!-- resize handles -->
  <svg class="abs" style="left:2156px;top:276px" width="8" height="7" viewBox="0 0 8 7"><path d="M6.5 0.5V5.5H1" fill="none" stroke="#a8a8a8" stroke-width="1"/></svg>
  <svg class="abs" style="left:2156px;top:713px" width="8" height="7" viewBox="0 0 8 7"><path d="M6.5 0.5V5.5H1" fill="none" stroke="#a8a8a8" stroke-width="1"/></svg>
  <!-- scrollbar -->
  <div class="abs" style="left:2160px;top:349px;width:4px;height:373px;background:#e4e4e4"></div>
  <div class="abs" style="left:2160px;top:350.5px;width:6px;height:18.3px;border-radius:3px;background:#7d7d7d"></div>
  <!-- cursor -->
  <svg class="abs" style="left:2066px;top:239px;z-index:20" width="16" height="22" viewBox="0 0 16 22"><path d="M3 2.7V14.2L5.6 11.7L8.2 17.9L10.4 17L7.9 10.9H11.8Z" fill="#000" stroke="#000" stroke-width="0.5" stroke-linejoin="round" style="filter:drop-shadow(0.3px 1.2px 1.2px rgba(0,0,0,0.4))"/></svg>
  <!-- FAB -->
  <div class="abs" style="left:2097px;top:1154px;width:47px;height:47px;border-radius:50%;background:#0d6fcc;box-shadow:0 1px 2px rgba(0,0,0,0.2)"></div>
  <div class="abs" style="left:2109.8px;top:1166.9px;width:21.4px;height:20.7px;border-radius:2px;background:#fff"></div>
  <div class="abs" style="left:2114.7px;top:1174.7px;width:2.7px;height:8px;background:#0d6fcc"></div>
  <div class="abs" style="left:2119.6px;top:1171.4px;width:2.7px;height:11.3px;background:#0d6fcc"></div>
  <div class="abs" style="left:2124.1px;top:1178px;width:2.7px;height:4.7px;background:#0d6fcc"></div>
  <div id="rightfade"></div>
</div>
</body></html>
